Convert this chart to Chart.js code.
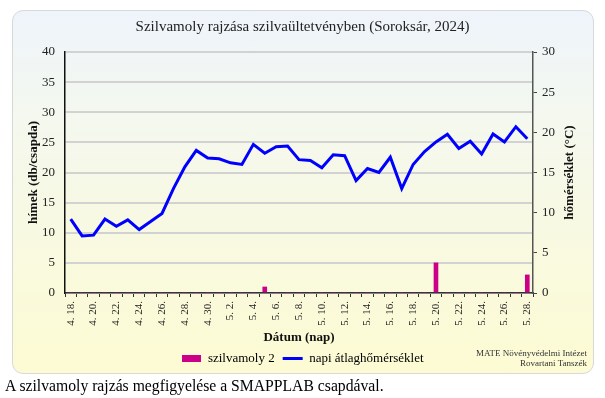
<!DOCTYPE html>
<html>
<head>
<meta charset="utf-8">
<script src="https://cdn.jsdelivr.net/npm/chart.js@4"></script>
<style>
  html, body { margin: 0; padding: 0; background: #ffffff; width: 605px; height: 398px; overflow: hidden; }
  #frame { position: absolute; left: 12px; top: 10px; width: 580px; height: 362px;
    border: 1px solid #d9d9d9; border-radius: 11px;
    background: linear-gradient(to bottom, #eef4fb 0%, #f4f8ee 30%, #f8f9e2 60%, #fcfbd3 100%); }
  #wrap { position: absolute; left: 0; top: 0; width: 605px; height: 398px; }
  #note { position: absolute; right: 18px; top: 348px; font: 9px "Liberation Serif", serif; color: #333; text-align: right; line-height: 10px; }
  #caption { position: absolute; left: 5px; top: 377px; font: 15.7px "Liberation Serif", serif; color: #000; white-space: nowrap; }
</style>
</head>
<body>
<div id="frame"></div>
<div id="wrap"><canvas id="c" width="605" height="398"></canvas></div>
<div id="note">MATE Növényvédelmi Intézet<br>Rovartani Tanszék</div>
<div id="caption">A szilvamoly rajzás megfigyelése a SMAPPLAB csapdával.</div>
<script>
const dates = [
  "4. 18.","4. 19.","4. 20.","4. 21.","4. 22.","4. 23.","4. 24.","4. 25.","4. 26.","4. 27.","4. 28.","4. 29.","4. 30.",
  "5. 1.","5. 2.","5. 3.","5. 4.","5. 5.","5. 6.","5. 7.","5. 8.","5. 9.","5. 10.","5. 11.","5. 12.","5. 13.","5. 14.",
  "5. 15.","5. 16.","5. 17.","5. 18.","5. 19.","5. 20.","5. 21.","5. 22.","5. 23.","5. 24.","5. 25.","5. 26.","5. 27.","5. 28."
];
const mothCounts = [
  0,0,0,0,0,0,0,0,0,0,0,0,0,
  0,0,0,0,1,0,0,0,0,0,0,0,0,0,
  0,0,0,0,0,5,0,0,0,0,0,0,0,3
];
const meanTemp = [
  9.2,7.1,7.2,9.2,8.3,9.1,7.9,8.9,9.9,13.0,15.7,17.75,16.8,
  16.7,16.2,16.0,18.5,17.4,18.2,18.3,16.6,16.5,15.6,17.2,17.1,14.0,15.5,
  15.0,16.9,13.0,16.0,17.6,18.8,19.75,18.0,18.9,17.3,19.8,18.8,20.7,19.2
];
const leftTicks = { min: 0, max: 40, step: 5 };
const rightTicks = { min: 0, max: 30, step: 5 };
const titleText = "Szilvamoly rajzása szilvaültetvényben (Soroksár, 2024)";
const leftTitle = "hímek (db/csapda)";
const rightTitle = "hőmérséklet (°C)";
const xTitle = "Dátum (nap)";
const seriesNames = ["szilvamoly 2", "napi átlaghőmérséklet"];

const SERIF = '"Liberation Serif", "Times New Roman", serif';
const barColor = '#cc0088';
const lineColor = '#0000ff';

// legend swatch for bars
const swatch = document.createElement('canvas');
swatch.width = 19; swatch.height = 7;
{ const g = swatch.getContext('2d'); g.fillStyle = barColor; g.fillRect(0, 0, 19, 7); }

const axisTitles = {
  id: 'axisTitles',
  afterDraw(chart) {
    const { ctx, chartArea } = chart;
    const cy = (chartArea.top + chartArea.bottom) / 2;
    ctx.save();
    ctx.fillStyle = '#111';
    ctx.font = 'bold 13px ' + SERIF;
    ctx.textAlign = 'center';
    ctx.textBaseline = 'middle';
    ctx.save(); ctx.translate(34, cy); ctx.rotate(-Math.PI / 2); ctx.fillText(leftTitle, 0, 0); ctx.restore();
    ctx.save(); ctx.translate(570, cy); ctx.rotate(-Math.PI / 2); ctx.fillText(rightTitle, 0, 0); ctx.restore();
    ctx.fillText(xTitle, (chartArea.left + chartArea.right) / 2, 338);
    ctx.restore();
  }
};

new Chart(document.getElementById('c'), {
  type: 'bar',
  data: {
    labels: dates,
    datasets: [
      { type: 'bar', label: seriesNames[0], data: mothCounts, backgroundColor: barColor,
        barThickness: 4, yAxisID: 'y', order: 2 },
      { type: 'line', label: seriesNames[1], data: meanTemp, borderColor: lineColor, backgroundColor: lineColor,
        borderWidth: 3, pointRadius: 0, tension: 0, yAxisID: 'y1', order: 1 }
    ]
  },
  options: {
    responsive: false,
    animation: false,
    layout: { padding: { top: 10, left: 12, right: 12, bottom: 23 } },
    plugins: {
      title: { display: true, text: titleText, color: '#222',
        font: { family: SERIF, size: 15, weight: 'normal' }, padding: { top: 8, bottom: 16 } },
      legend: {
        position: 'bottom',
        labels: {
          usePointStyle: true, pointStyleWidth: 20, boxHeight: 7, padding: 8,
          color: '#222', font: { family: SERIF, size: 13 },
          generateLabels() {
            return [
              { text: seriesNames[0], pointStyle: swatch, fillStyle: barColor, strokeStyle: barColor, lineWidth: 0, datasetIndex: 0, hidden: false },
              { text: seriesNames[1], pointStyle: 'line', fillStyle: lineColor, strokeStyle: lineColor, lineWidth: 3, datasetIndex: 1, hidden: false }
            ];
          }
        }
      },
      tooltip: { enabled: false }
    },
    scales: {
      x: {
        offset: true,
        afterFit(s) { s.height = 51; },
        grid: { display: true, drawOnChartArea: false, drawTicks: true, tickLength: 4, color: '#333', offset: true },
        border: { color: '#333', width: 1.5 },
        ticks: {
          autoSkip: false, minRotation: 90, maxRotation: 90, padding: 4, color: '#222',
          font: { family: SERIF, size: 11 },
          callback(v, i) { return i % 2 === 0 ? dates[i] : ''; }
        }
      },
      y: {
        position: 'left',
        min: leftTicks.min, max: leftTicks.max,
        afterFit(s) { s.width = 53; },
        grid: { color: '#d2d2d2', lineWidth: 2, drawTicks: false },
        border: { color: '#111', width: 1.5 },
        ticks: { stepSize: leftTicks.step, padding: 10, color: '#222', font: { family: SERIF, size: 13 } }
      },
      y1: {
        position: 'right',
        min: rightTicks.min, max: rightTicks.max,
        afterFit(s) { s.width = 60; },
        grid: { drawOnChartArea: false, drawTicks: true, tickLength: 4, color: '#444' },
        border: { color: '#555', width: 1.5 },
        ticks: { stepSize: rightTicks.step, padding: 5, color: '#222', font: { family: SERIF, size: 13 } }
      }
    }
  },
  plugins: [axisTitles]
});
</script>
</body>
</html>
